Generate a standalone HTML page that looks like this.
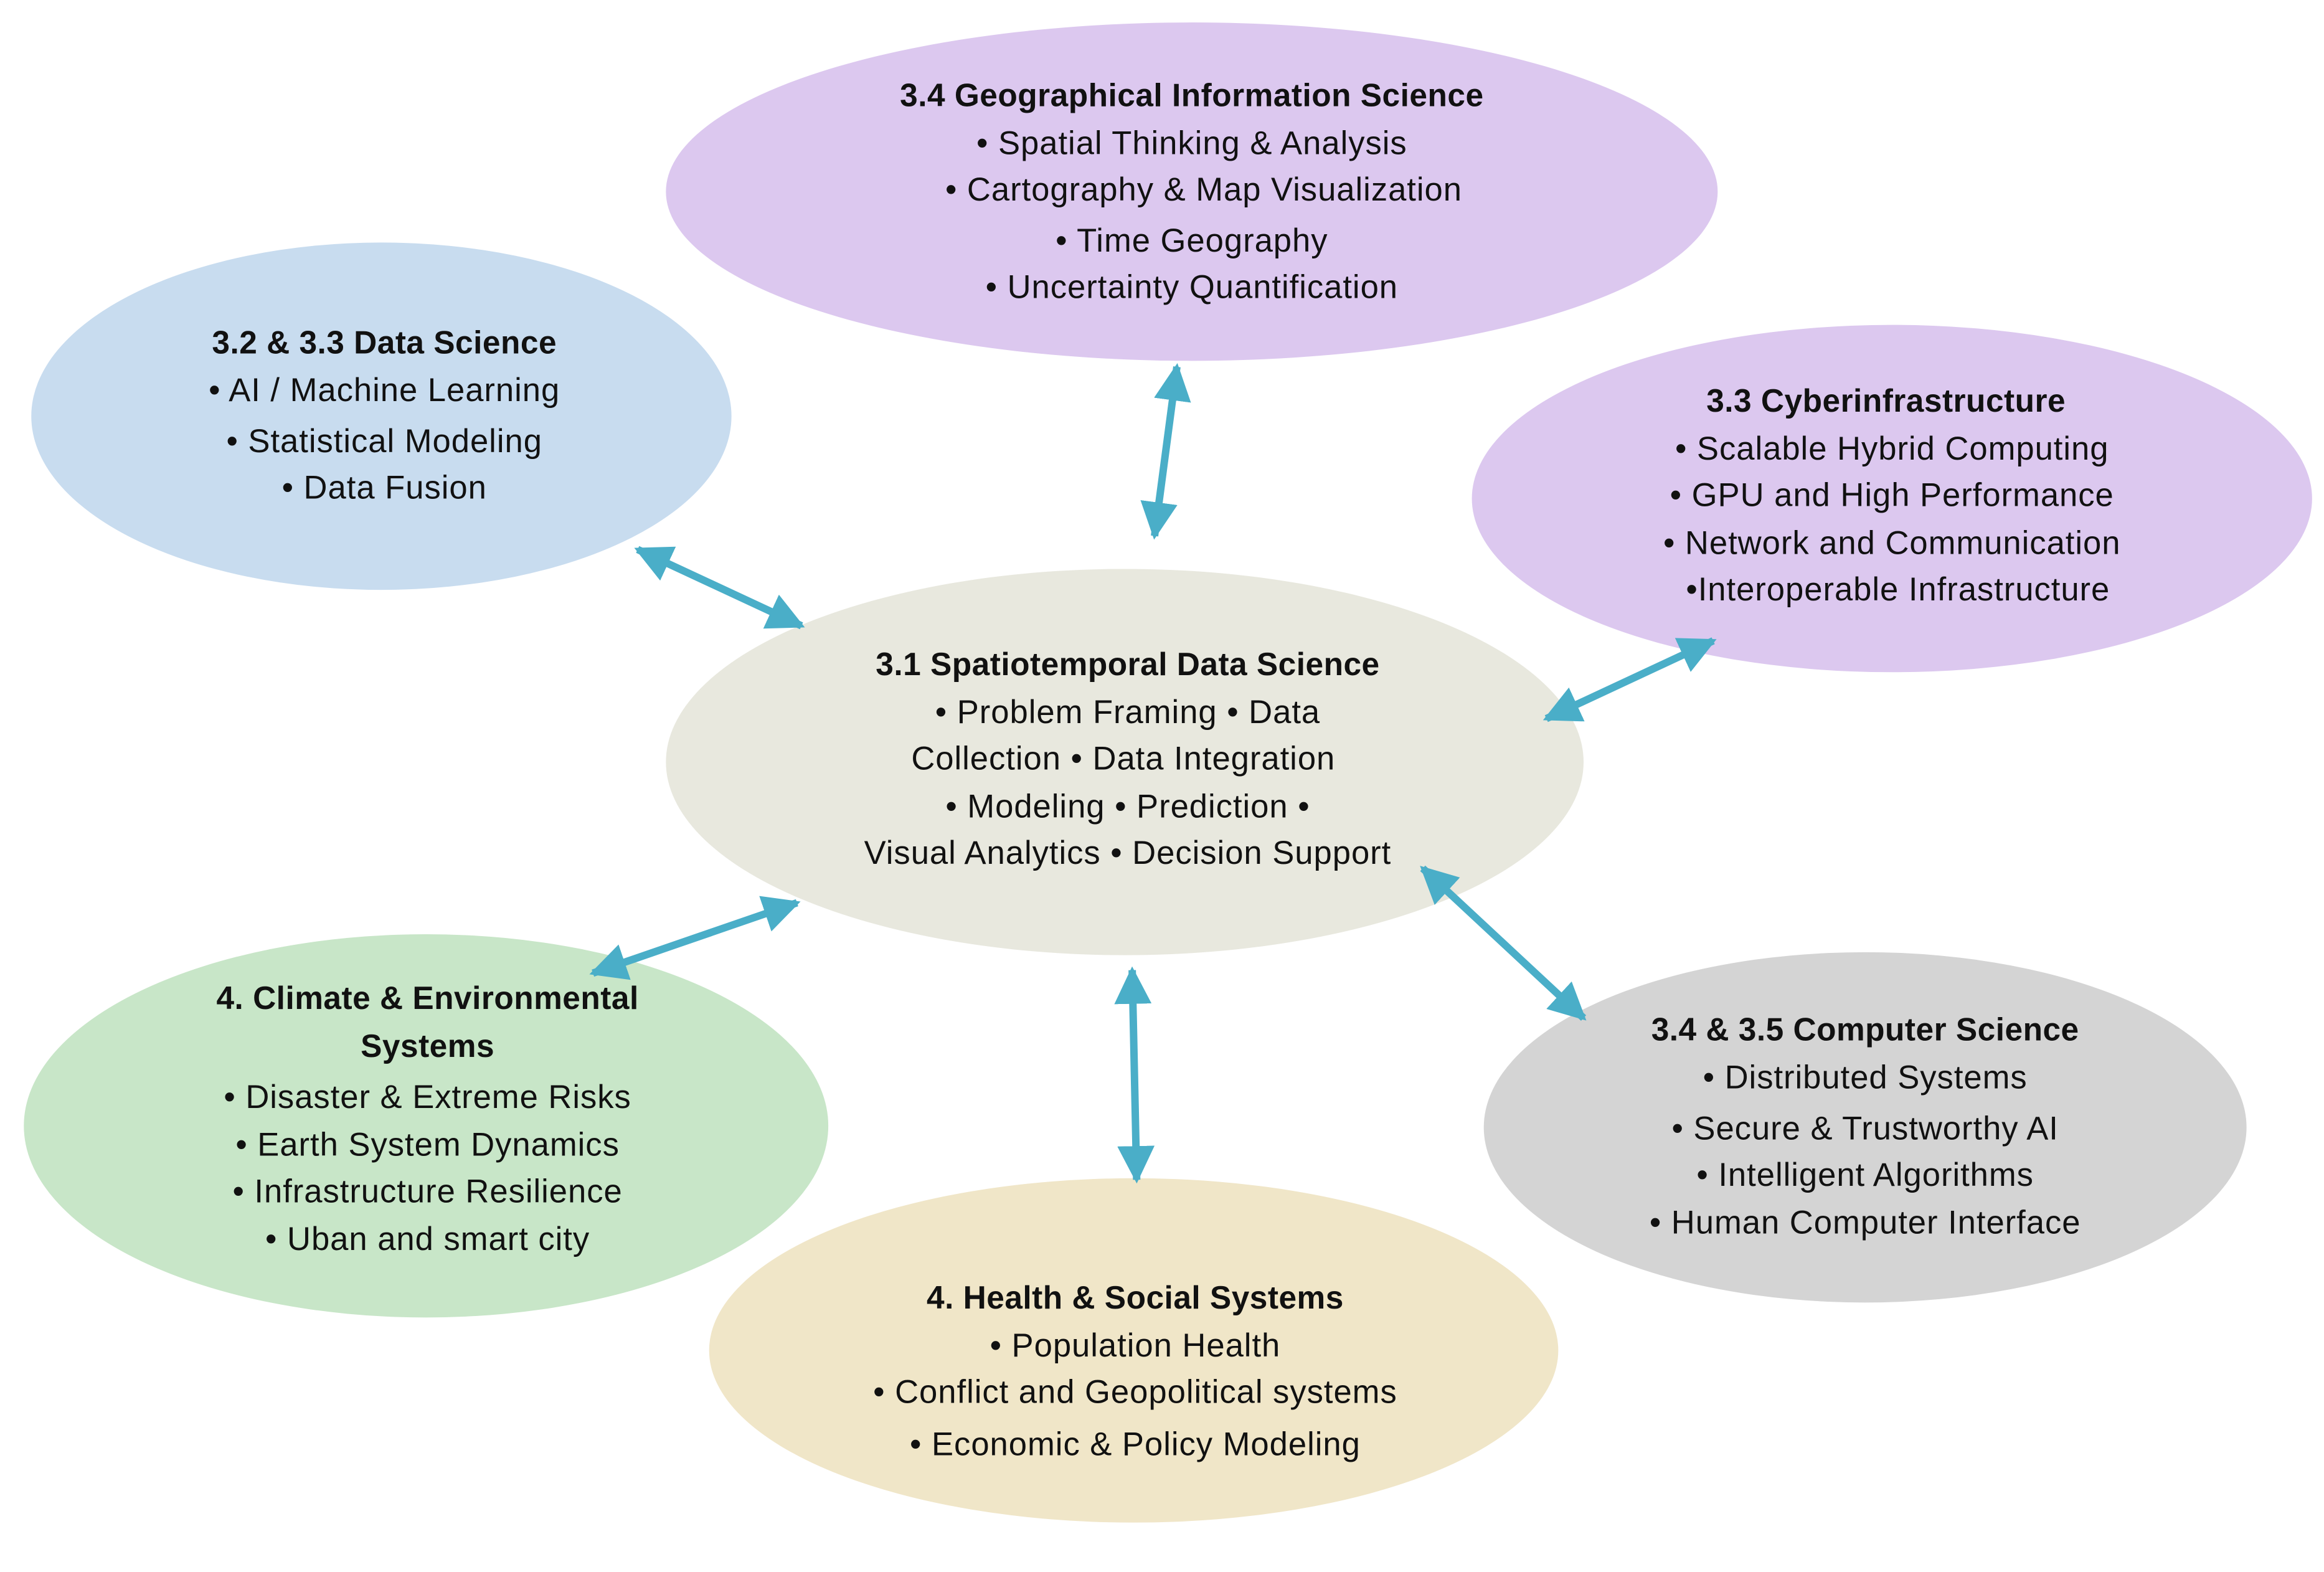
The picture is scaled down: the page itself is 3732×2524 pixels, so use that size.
<!DOCTYPE html>
<html><head><meta charset="utf-8"><style>
html,body{margin:0;padding:0;background:#fff}
svg{display:block}
text{font-family:"Liberation Sans",sans-serif;font-size:22px;letter-spacing:0.4px;fill:#111;text-anchor:middle}
.b{font-weight:bold;font-size:21.5px;letter-spacing:0.2px}
</style></head><body>
<svg width="3732" height="2524" viewBox="0 0 1560 1050" preserveAspectRatio="none" xmlns="http://www.w3.org/2000/svg">
<defs>
<marker id="a" viewBox="0 0 10 10" refX="9" refY="5" markerWidth="5" markerHeight="5" orient="auto-start-reverse">
<path d="M0,0 L10,5 L0,10 z" fill="#4aaec8"/></marker>
</defs>
<ellipse cx="800" cy="128" rx="353" ry="113" fill="#dcc8ef"/>
<ellipse cx="256" cy="278" rx="235" ry="116" fill="#c8dcef"/>
<ellipse cx="1270" cy="333" rx="282" ry="116" fill="#dcc8ef"/>
<ellipse cx="755" cy="509" rx="308" ry="129" fill="#e8e8de"/>
<ellipse cx="286" cy="752" rx="270" ry="128" fill="#c8e6c8"/>
<ellipse cx="1252" cy="753" rx="256" ry="117" fill="#d4d4d4"/>
<ellipse cx="761" cy="902" rx="285" ry="115" fill="#f0e6c8"/>
<g stroke="#4aaec8" stroke-width="5" marker-start="url(#a)" marker-end="url(#a)">
<line x1="790" y1="245" x2="775" y2="358"/>
<line x1="428" y1="367" x2="538" y2="418"/>
<line x1="1150" y1="428" x2="1038" y2="480"/>
<line x1="398" y1="650" x2="535" y2="603"/>
<line x1="955" y1="580" x2="1063" y2="680"/>
<line x1="760" y1="648" x2="763" y2="788"/>
</g>
<text x="800" y="71" class="b">3.4 Geographical Information Science</text>
<text x="800" y="103">• Spatial Thinking &amp; Analysis</text>
<text x="808" y="134">• Cartography &amp; Map Visualization</text>
<text x="800" y="168">• Time Geography</text>
<text x="800" y="199">• Uncertainty Quantification</text>
<text x="258" y="236" class="b">3.2 &amp; 3.3 Data Science</text>
<text x="258" y="268">• AI / Machine Learning</text>
<text x="258" y="302">• Statistical Modeling</text>
<text x="258" y="333">• Data Fusion</text>
<text x="1266" y="275" class="b">3.3 Cyberinfrastructure</text>
<text x="1270" y="307">• Scalable Hybrid Computing</text>
<text x="1270" y="338">• GPU and High Performance</text>
<text x="1270" y="370">• Network and Communication</text>
<text x="1274" y="401">•Interoperable Infrastructure</text>
<text x="757" y="451" class="b">3.1 Spatiotemporal Data Science</text>
<text x="757" y="483">• Problem Framing • Data</text>
<text x="754" y="514">Collection • Data Integration</text>
<text x="757" y="546">• Modeling • Prediction  •</text>
<text x="757" y="577">Visual Analytics • Decision Support</text>
<text x="287" y="674" class="b">4. Climate &amp; Environmental</text>
<text x="287" y="706" class="b">Systems</text>
<text x="287" y="740">• Disaster &amp; Extreme Risks</text>
<text x="287" y="772">• Earth System Dynamics</text>
<text x="287" y="803">• Infrastructure Resilience</text>
<text x="287" y="835">•  Uban and smart city</text>
<text x="1252" y="695" class="b">3.4 &amp; 3.5 Computer Science</text>
<text x="1252" y="727">• Distributed Systems</text>
<text x="1252" y="761">• Secure &amp; Trustworthy AI</text>
<text x="1252" y="792">• Intelligent Algorithms</text>
<text x="1252" y="824">• Human Computer Interface</text>
<text x="762" y="874" class="b">4. Health &amp; Social Systems</text>
<text x="762" y="906">• Population Health</text>
<text x="762" y="937">• Conflict and Geopolitical systems</text>
<text x="762" y="972">• Economic &amp; Policy Modeling</text>
</svg>
</body></html>
